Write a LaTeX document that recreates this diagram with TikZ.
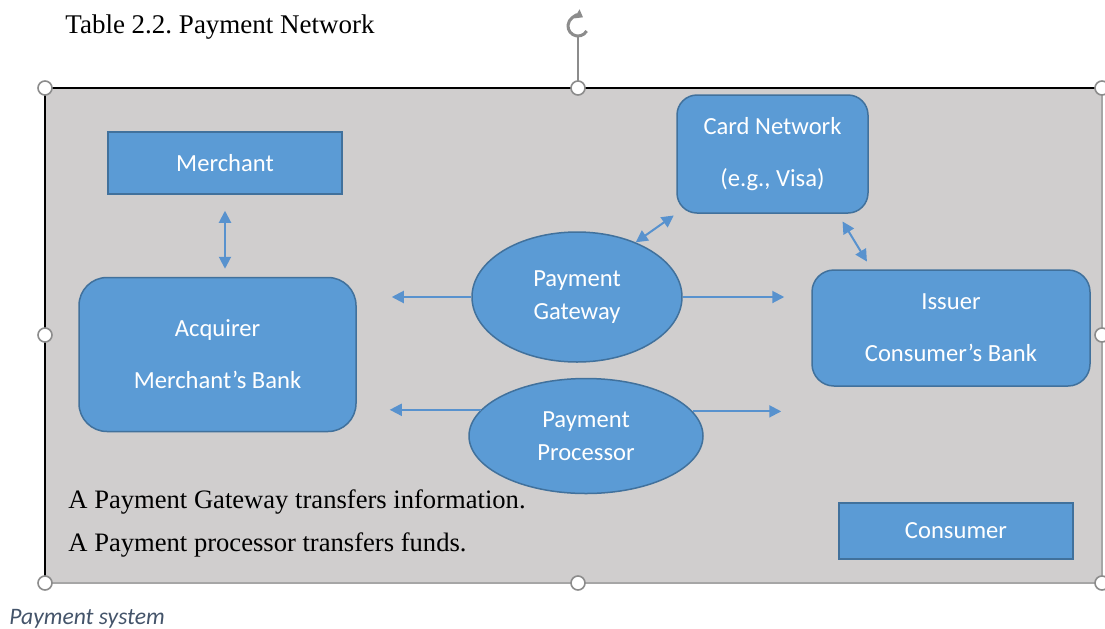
\documentclass[tikz,border=0pt]{standalone}
\usepackage{fontspec}
\setmainfont{Liberation Serif}
\newfontfamily\carlito{Carlito}
\usetikzlibrary{shapes.geometric,arrows.meta}
\definecolor{boxblue}{RGB}{91,155,213}
\definecolor{boxedge}{RGB}{65,113,156}
\definecolor{arrowblue}{RGB}{88,146,206}
\definecolor{panel}{RGB}{208,206,206}
\definecolor{capgray}{RGB}{68,84,106}
\definecolor{handlegray}{RGB}{140,140,140}
\frenchspacing

\begin{document}
\begin{tikzpicture}[x=0.5pt,y=-0.5pt,
 blk/.style={draw=boxedge,line width=0.75pt,fill=boxblue,text=white,align=center,inner sep=0pt,
  font=\carlito\fontsize{12.3}{26}\selectfont},
 sq/.style={blk},
 rnd/.style={blk,rounded corners=11pt},
 oval/.style={blk,ellipse,font=\carlito\fontsize{12.3}{16.5}\selectfont},
 link/.style={draw=arrowblue,line width=1pt,-{Triangle[length=6pt,width=6pt]}},
 dlink/.style={draw=arrowblue,line width=1pt,{Triangle[length=6pt,width=6pt]}-{Triangle[length=6pt,width=6pt]}},
 txt/.style={anchor=base west,inner sep=0pt,font=\fontsize{13.3}{16}\selectfont},
 handle/.style={draw=handlegray,fill=white,line width=0.8pt}]
 \useasboundingbox (0,0) rectangle (1105,628);

 % grey panel with its frame
 \fill[panel] (45,88) rectangle (1102,583);
 \draw[gray!70,line width=1pt] (45,583) -- (1102,583) -- (1102,88);
 \draw[black,line width=1pt] (45,583) -- (45,88) -- (1102,88);

 \node[txt,font=\fontsize{13.5}{16}\selectfont] (title) at (65,33) {Table 2.2. Payment Network};

 % parties
 \node[sq,minimum width=117pt,minimum height=31pt] (merchant) at (225,163) {Merchant};
 \node[rnd,rounded corners=14pt,minimum width=138.5pt,minimum height=77pt] (acq) at (217.5,354.5) {Acquirer\\Merchant’s Bank};
 \node[rnd,rounded corners=10pt,minimum width=95.5pt,minimum height=59pt] (card) at (772.5,154) {Card Network\\(e.g., Visa)};
 \node[rnd,minimum width=139pt,minimum height=58pt] (iss) at (951,328) {Issuer\\Consumer’s Bank};
 \node[oval,minimum width=105pt,minimum height=65pt] (gw) at (577,297) {Payment\\Gateway};
 \node[oval,minimum width=117pt,minimum height=57.5pt] (pp) at (586,436) {Payment\\Processor};
 \node[sq,minimum width=117pt,minimum height=28pt] (consumer) at (956,531) {Consumer};

 % flows
 \draw[dlink,shorten <=8pt,shorten >=4pt] (merchant.south) -- (merchant.south |- acq.north);
 \draw[link,shorten >=17.5pt] (gw.west) -- (gw.west -| acq.east);
 \draw[link,shorten >=13.5pt] (gw.east) -- (gw.east -| iss.west);
 \draw[link,shorten >=16.5pt] (pp.166.6) -- (pp.166.6 -| acq.east);
 \draw[link,shorten >=15pt] (pp.13.4) -- (pp.13.4 -| iss.west);
 \draw[dlink,shorten >=1.5pt] (gw.43.6) -- (card.south west);
 \draw[dlink,shorten <=4.5pt,shorten >=4.5pt] ([xshift=32.7pt]card.south) -- ([xshift=-39.7pt]iss.north);

 \node[txt] (note1) at (68,508) {A Payment Gateway transfers information.};
 \node[txt] (note2) at (68,551) {A Payment processor transfers funds.};

 \node[txt,text=capgray,font=\carlito\itshape\fontsize{11.8}{14}\selectfont] (caption) at (9,624) {Payment system};

 % selection handles and rotate knob
 \draw[handlegray,line width=0.6pt] (578,88) -- (578,37);
 \draw[handlegray,line width=1.5pt,-{Triangle[length=3.5pt,width=5pt]}] (578,26) ++(30:10) arc[start angle=30,end angle=300,radius=10];
 \foreach \hx/\hy in {45/88,578/88,1102/88,45/335,1102/335,45/583,578/583,1102/583}
  \draw[handle] (\hx,\hy) circle[radius=7];
\end{tikzpicture}
\end{document}
